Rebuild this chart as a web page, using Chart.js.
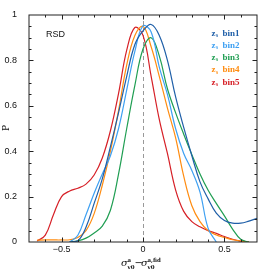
<!DOCTYPE html>
<html>
<head>
<meta charset="utf-8">
<script src="https://cdn.jsdelivr.net/npm/chart.js@4.4.1/dist/chart.umd.min.js"></script>
<style>
  html, body { margin: 0; padding: 0; background: #fff; }
  #wrap { width: 271px; height: 271px; position: relative; }
</style>
</head>
<body>
<div id="wrap"><canvas id="c" width="271" height="271"></canvas></div>
<script>
// x grid shared by all curves
const xs = [-0.7, -0.65, -0.6, -0.55, -0.5, -0.45, -0.4, -0.35, -0.3, -0.25, -0.2, -0.15, -0.1, -0.05, 0,
  0.05, 0.1, 0.15, 0.2, 0.25, 0.3, 0.35, 0.4, 0.45, 0.5, 0.55, 0.6, 0.65, 0.7];

const bin1 = [null, null, null, null, null, 0.0, 0.005, 0.065, 0.17, 0.278, 0.42, 0.57, 0.73, 0.87, 0.93,
  0.958, 0.91, 0.8, 0.64, 0.505, 0.38, 0.265, 0.19, 0.127, 0.095, 0.083, 0.083, 0.092, 0.104];
const bin2 = [null, null, null, null, null, 0.0, 0.03, 0.12, 0.215, 0.3, 0.38, 0.5, 0.67, 0.84, 0.952,
  0.925, 0.77, 0.65, 0.5, 0.39, 0.315, 0.22, 0.06, 0.0, null, null, null, null, null];
const bin3 = [null, null, null, null, null, 0.0, 0.005, 0.017, 0.04, 0.07, 0.14, 0.3, 0.5, 0.69, 0.85,
  0.9, 0.82, 0.675, 0.57, 0.475, 0.385, 0.3, 0.228, 0.17, 0.115, 0.057, 0.012, 0.0, null];
const bin4 = [null, 0.008, 0.009, 0.009, 0.009, 0.01, 0.02, 0.05, 0.125, 0.25, 0.4, 0.58, 0.78, 0.91, 0.95,
  0.86, 0.73, 0.59, 0.46, 0.29, 0.16, 0.09, 0.05, 0.031, 0.02, 0.01, 0.004, 0.0, null];
const bin5 = [null, 0.004, 0.03, 0.12, 0.2, 0.225, 0.237, 0.255, 0.295, 0.37, 0.49, 0.655, 0.845, 0.945, 0.91,
  0.73, 0.54, 0.39, 0.23, 0.135, 0.09, 0.067, 0.05, 0.038, 0.024, 0.012, 0.004, 0.0, null];

const labels = ["bin1", "bin2", "bin3", "bin4", "bin5"];
const colors = ["#1f5fa8", "#3ea0f2", "#1f9e52", "#ff8c10", "#d61f26"];
const yTicks = [0, 0.2, 0.4, 0.6, 0.8, 1];
const xTicks = [-0.5, 0, 0.5];

function pts(arr) {
  return xs.map((x, i) => ({ x: x, y: arr[i] }));
}

const series = [bin1, bin2, bin3, bin4, bin5];

const decor = {
  id: "decor",
  beforeDatasetsDraw(chart) {
    const ctx = chart.ctx;
    const xS = chart.scales.x, a = chart.chartArea;
    ctx.save();
    ctx.strokeStyle = "#999";
    ctx.lineWidth = 1;
    ctx.setLineDash([4, 3]);
    const px = Math.round(xS.getPixelForValue(0)) + 0.5;
    ctx.beginPath();
    ctx.moveTo(px, a.bottom);
    ctx.lineTo(px, a.top);
    ctx.stroke();
    ctx.restore();
  },
  afterDraw(chart) {
    const ctx = chart.ctx;
    const xS = chart.scales.x, yS = chart.scales.y, a = chart.chartArea;
    ctx.save();
    ctx.strokeStyle = "#222";
    ctx.lineWidth = 1;
    ctx.strokeRect(a.left, a.top, a.right - a.left, a.bottom - a.top);
    ctx.beginPath();
    // x ticks: every 0.1, major on labelled values
    for (let k = -6; k <= 6; k++) {
      const v = k / 10;
      const px = Math.round(xS.getPixelForValue(v)) + 0.5;
      const len = (k % 5 === 0) ? 4.5 : 2.5;
      ctx.moveTo(px, a.bottom); ctx.lineTo(px, a.bottom - len);
      ctx.moveTo(px, a.top); ctx.lineTo(px, a.top + len);
    }
    // y ticks: every 0.05, major every 0.2
    for (let k = 1; k < 20; k++) {
      const v = k * 0.05;
      const py = Math.round(yS.getPixelForValue(v)) + 0.5;
      const len = (k % 4 === 0) ? 4.5 : 2.5;
      ctx.moveTo(a.left, py); ctx.lineTo(a.left + len, py);
      ctx.moveTo(a.right, py); ctx.lineTo(a.right - len, py);
    }
    ctx.stroke();

    // RSD label
    ctx.fillStyle = "#111";
    ctx.font = "9px 'Liberation Sans', sans-serif";
    ctx.textBaseline = "middle";
    ctx.textAlign = "left";
    ctx.fillText("RSD", 46, 35);

    // legend
    labels.forEach((lab, i) => {
      const y = 33.5 + i * 12.2;
      ctx.fillStyle = colors[i];
      ctx.font = "bold 9px 'Liberation Serif', serif";
      ctx.fillText("z", 211.5, y);
      ctx.font = "bold 5.5px 'Liberation Serif', serif";
      ctx.fillText("s", 216, y + 2);
      ctx.font = "bold 9px 'Liberation Serif', serif";
      ctx.fillText(lab, 222.5, y);
    });

    // y title
    ctx.fillStyle = "#111";
    ctx.save();
    ctx.translate(7, 128);
    ctx.rotate(-Math.PI / 2);
    ctx.textAlign = "center";
    ctx.font = "9px 'DejaVu Serif', serif";
    ctx.fillText("P", 0, 0);
    ctx.restore();

    // x title: sigma^a_v0 - sigma^{a,fid}_v0
    ctx.textAlign = "left";
    ctx.textBaseline = "alphabetic";
    const base = 266;
    ctx.font = "italic 10px 'DejaVu Serif', serif";
    ctx.fillText("\u03c3", 121, base);
    ctx.font = "bold 5.5px 'DejaVu Serif', serif";
    ctx.fillText("a", 127.5, base - 4.5);
    ctx.fillText("v0", 127.5, base + 2.5);
    ctx.font = "10px 'DejaVu Sans', sans-serif";
    ctx.fillText("\u2212", 134.5, base);
    ctx.font = "italic 10px 'DejaVu Serif', serif";
    ctx.fillText("\u03c3", 141, base);
    ctx.font = "bold 5.5px 'DejaVu Serif', serif";
    ctx.fillText("a,fid", 147.5, base - 4.5);
    ctx.fillText("v0", 147.5, base + 2.5);
    ctx.restore();
  }
};

new Chart(document.getElementById("c"), {
  type: "line",
  data: {
    datasets: series.map((s, i) => ({
      label: labels[i],
      data: pts(s),
      borderColor: colors[i],
      borderWidth: 1.2,
      pointRadius: 0,
      fill: false,
      spanGaps: false,
      tension: 0.4,
    })),
  },
  options: {
    responsive: false,
    animation: false,
    layout: { padding: { top: 15, right: 14, left: 0, bottom: 0 } },
    plugins: { legend: { display: false }, tooltip: { enabled: false } },
    scales: {
      x: {
        type: "linear",
        min: -0.7,
        max: 0.7,
        grid: { display: false },
        border: { display: false },
        afterFit(s) { s.height = 29; },
        afterBuildTicks(s) { s.ticks = xTicks.map(v => ({ value: v })); },
        ticks: {
          padding: -6,
          autoSkip: false,
          color: "#111",
          font: { family: "'Liberation Sans', sans-serif", size: 9 },
          callback: v => (v === 0 ? "0" : (v < 0 ? "\u2212" : "") + Math.abs(v).toFixed(1)),
          maxRotation: 0,
        },
      },
      y: {
        min: 0,
        max: 1,
        grid: { display: false },
        border: { display: false },
        afterFit(s) { s.width = 29; },
        afterBuildTicks(s) { s.ticks = yTicks.map(v => ({ value: v })); },
        ticks: {
          padding: 4,
          autoSkip: false,
          color: "#111",
          font: { family: "'Liberation Sans', sans-serif", size: 9 },
          callback: v => (v === 0 ? "0" : v === 1 ? "1" : v.toFixed(1)),
        },
      },
    },
  },
  plugins: [decor],
});
</script>
</body>
</html>
